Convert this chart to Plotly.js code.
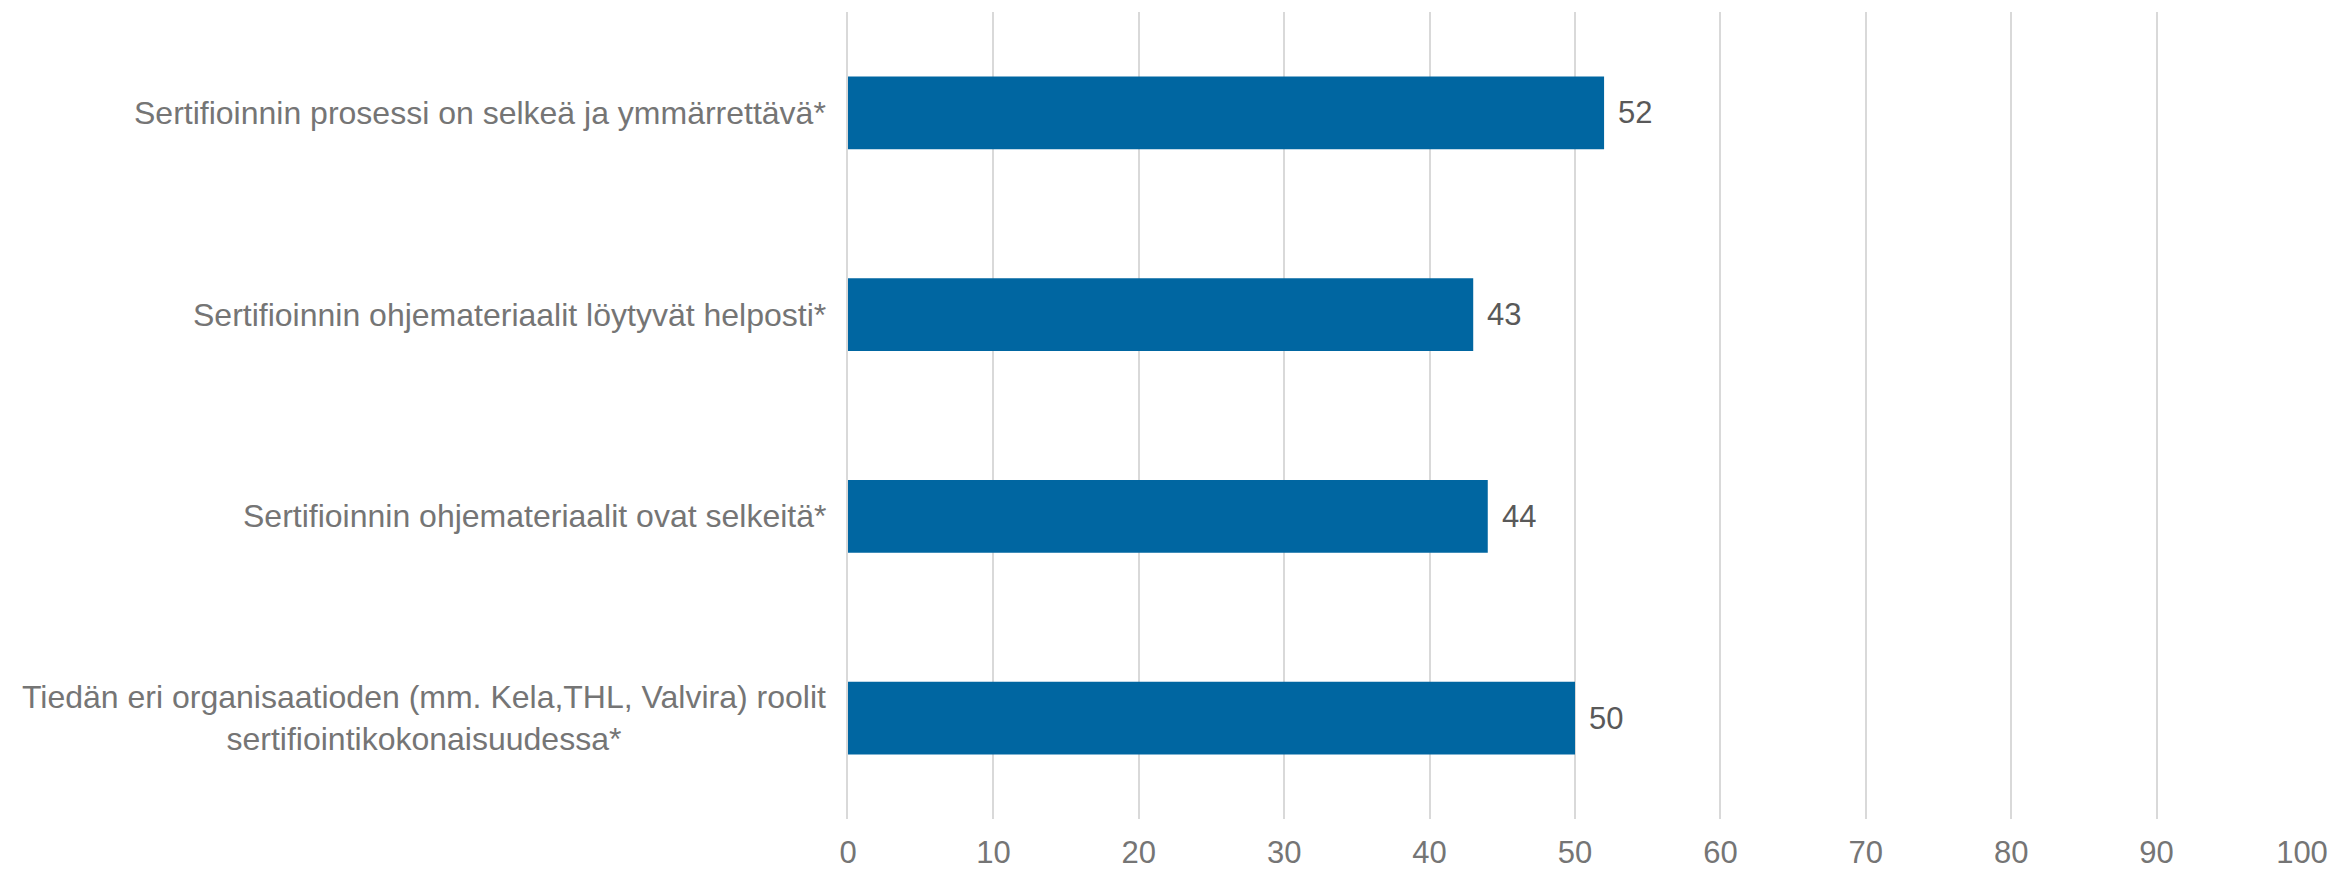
<!DOCTYPE html>
<html>
<head>
<meta charset="utf-8">
<script src="https://cdn.plot.ly/plotly-3.0.1.min.js"></script>
<style>html,body{margin:0;padding:0;background:#fff;}#chart{width:2330px;height:869px;}</style>
</head>
<body>
<div id="chart"></div>
<script>
const categories = [
  "Sertifioinnin prosessi on selkeä ja ymmärrettävä*",
  "Sertifioinnin ohjemateriaalit löytyvät helposti*",
  "Sertifioinnin ohjemateriaalit ovat selkeitä*",
  "Tiedän eri organisaatioden (mm. Kela,THL, Valvira) roolit<br>sertifiointikokonaisuudessa*"
];
const values = [52, 43, 44, 50];
const tickValues = [0,10,20,30,40,50,60,70,80,90,100];
const tickLabels = ["0","10","20","30","40","50","60","70","80","90","100"];

const FONT = "Liberation Sans, Arial, sans-serif";

const trace = {
  type: "bar",
  orientation: "h",
  x: values,
  y: categories,
  marker: {color: "#0066A1"},
  hoverinfo: "none"
};

const annotations = [];
categories.forEach((c, i) => {
  annotations.push({
    xref: "paper", yref: "y", x: 0, y: c,
    text: c, showarrow: false, xanchor: "right", yanchor: "middle",
    align: "center", xshift: -20,
    font: {family: FONT, size: 32, color: "#757575"}
  });
  annotations.push({
    xref: "x", yref: "y", x: values[i], y: c,
    text: String(values[i]), showarrow: false, xanchor: "left", yanchor: "middle",
    xshift: 12,
    font: {family: FONT, size: 31, color: "#595959"}
  });
});

const layout = {
  width: 2330, height: 869,
  margin: {l: 848, r: 28, t: 12, b: 50},
  paper_bgcolor: "#fff", plot_bgcolor: "#fff",
  bargap: 0.64,
  showlegend: false,
  xaxis: {
    range: [0, 100],
    tickvals: tickValues, ticktext: tickLabels,
    showgrid: true, gridcolor: "#D9D9D9", gridwidth: 2,
    zeroline: false, showline: false,
    ticks: "", ticklabelstandoff: 12,
    tickfont: {family: FONT, size: 31, color: "#757575"},
    fixedrange: true
  },
  yaxis: {
    autorange: "reversed",
    showticklabels: false, showgrid: false, zeroline: false,
    showline: true, linecolor: "#D9D9D9", linewidth: 2,
    ticks: "", fixedrange: true
  },
  annotations: annotations
};

Plotly.newPlot("chart", [trace], layout, {displayModeBar: false, staticPlot: true});
</script>
</body>
</html>
